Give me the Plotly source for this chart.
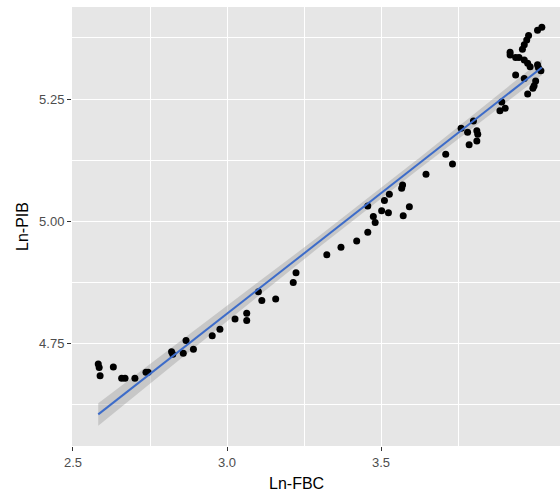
import numpy as np
import plotly.graph_objects as go

ln_fbc = [2.582, 2.585, 2.588, 2.631, 2.658, 2.669, 2.701, 2.737, 2.744, 2.820,
          2.824, 2.858, 2.867, 2.891, 2.952, 2.977, 3.026, 3.064, 3.064, 3.102,
          3.113, 3.158, 3.215, 3.224, 3.324, 3.370, 3.421, 3.457, 3.457, 3.475,
          3.481, 3.502, 3.511, 3.524, 3.527, 3.567, 3.570, 3.572, 3.592, 3.646,
          3.710, 3.732, 3.760, 3.781, 3.786, 3.800, 3.811, 3.814, 3.811, 3.886,
          3.903, 3.892, 3.937, 3.976, 3.993, 3.997, 4.002, 3.965, 4.019, 4.022,
          4.008, 3.979, 3.973, 3.965, 3.959, 3.919, 3.919, 3.937, 3.948, 3.965,
          3.976, 3.984, 4.011, 4.008]
ln_pib = [4.707, 4.700, 4.683, 4.701, 4.678, 4.678, 4.678, 4.690, 4.690, 4.732,
          4.727, 4.729, 4.755, 4.737, 4.765, 4.778, 4.799, 4.811, 4.796, 4.855,
          4.837, 4.840, 4.874, 4.894, 4.931, 4.946, 4.959, 4.977, 5.031, 5.009,
          4.997, 5.021, 5.042, 5.017, 5.055, 5.067, 5.074, 5.011, 5.029, 5.096,
          5.137, 5.117, 5.190, 5.182, 5.156, 5.205, 5.185, 5.178, 5.164, 5.226,
          5.231, 5.244, 5.299, 5.260, 5.272, 5.277, 5.287, 5.292, 5.308, 5.397,
          5.391, 5.380, 5.371, 5.361, 5.352, 5.346, 5.340, 5.335, 5.335, 5.330,
          5.323, 5.316, 5.314, 5.320]

x_ticks = [2.5, 3.0, 3.5]
x_tick_labels = ["2.5", "3.0", "3.5"]
y_ticks = [4.75, 5.00, 5.25]
y_tick_labels = ["4.75", "5.00", "5.25"]

x = np.array(ln_fbc)
y = np.array(ln_pib)
n = len(x)
b1, b0 = np.polyfit(x, y, 1)
xs = np.linspace(x.min(), x.max(), 80)
ys = b0 + b1 * xs
resid = y - (b0 + b1 * x)
s = np.sqrt(np.sum(resid ** 2) / (n - 2))
sxx = np.sum((x - x.mean()) ** 2)
se = s * np.sqrt(1.0 / n + (xs - x.mean()) ** 2 / sxx)
tq = 1.993
lo = ys - tq * se
hi = ys + tq * se

fig = go.Figure()
fig.add_trace(go.Scatter(
    x=np.concatenate([xs, xs[::-1]]), y=np.concatenate([hi, lo[::-1]]),
    fill="toself", fillcolor="rgba(153,153,153,0.4)", line=dict(width=0),
    mode="lines", hoverinfo="skip", showlegend=False))
fig.add_trace(go.Scatter(x=x, y=y, mode="markers",
                         marker=dict(color="black", size=7), showlegend=False))
fig.add_trace(go.Scatter(x=xs, y=ys, mode="lines",
                         line=dict(color="#3D6CC9", width=2), showlegend=False))

axis_common = dict(
    showgrid=True, gridcolor="white", gridwidth=1.1, zeroline=False,
    ticks="outside", ticklen=4, tickcolor="#333333", tickwidth=1,
    tickfont=dict(family="Liberation Sans, Arial", size=13, color="#4D4D4D"),
    showline=False, automargin=False,
)
fig.update_layout(
    width=560, height=498,
    margin=dict(l=72, r=0, t=7, b=52),
    paper_bgcolor="white", plot_bgcolor="#E6E6E6",
    font=dict(family="Liberation Sans, Arial"),
    xaxis=dict(range=[2.4968, 4.081], tickvals=x_ticks, ticktext=x_tick_labels,
               minor=dict(dtick=0.5, tick0=2.25, showgrid=True, gridcolor="white", gridwidth=0.5, ticks=""),
               **axis_common),
    yaxis=dict(range=[4.539, 5.4385], tickvals=y_ticks, ticktext=y_tick_labels,
               title=dict(text="Ln-PIB", font=dict(size=16, color="black"), standoff=6),
               minor=dict(dtick=0.25, tick0=4.625, showgrid=True, gridcolor="white", gridwidth=0.5, ticks=""),
               **axis_common),
    annotations=[dict(text="Ln-FBC", xref="paper", yref="paper", x=0.461, y=-0.085,
                      xanchor="center", yanchor="middle", showarrow=False,
                      font=dict(size=16, color="black", family="Liberation Sans, Arial"))],
)
fig.write_html("out.html", config={"displayModeBar": False},
               post_script="document.body.style.margin='0';document.body.style.overflow='hidden';")
